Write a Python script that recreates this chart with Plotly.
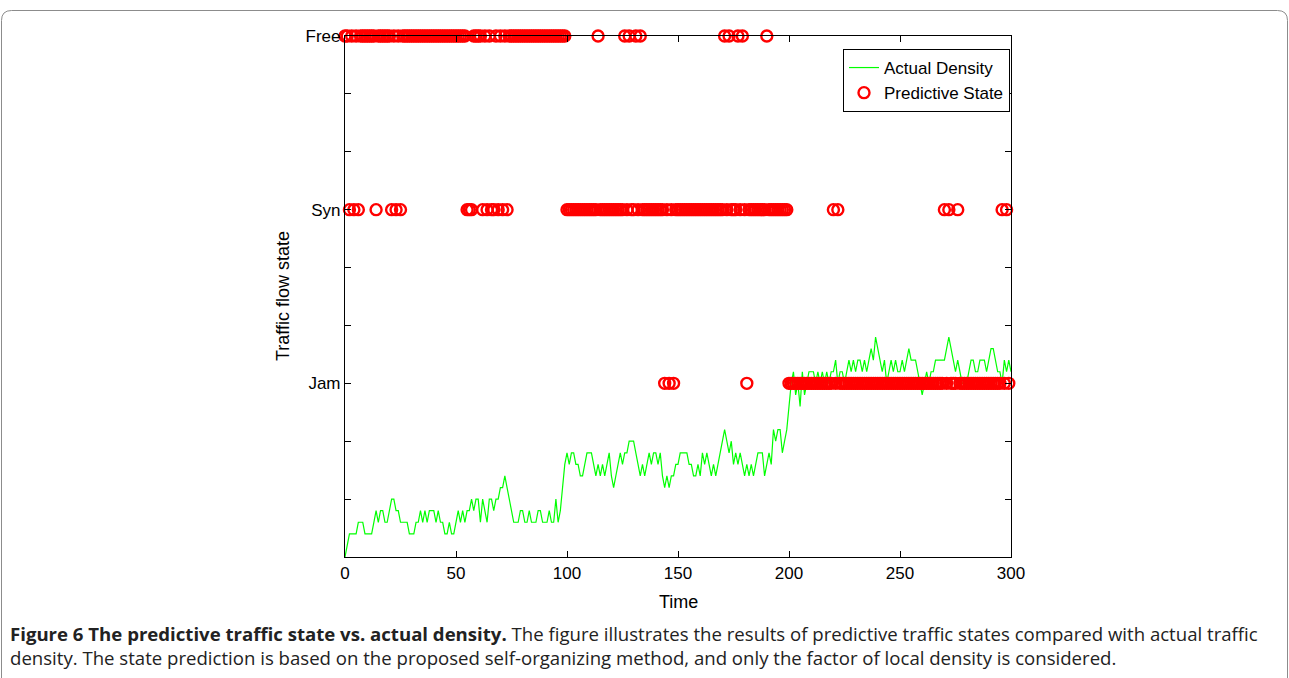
import plotly.graph_objects as go

# ---- data -------------------------------------------------------------
time = list(range(301))

# actual density, in steps of 1/15 of a state band
density_level = [
    0, 1, 2, 2, 2, 2, 3, 3, 3, 2,
    2, 2, 2, 3, 4, 3, 4, 4, 3, 3,
    4, 5, 5, 4, 4, 3, 3, 3, 3, 2,
    2, 2, 3, 3, 4, 3, 4, 3, 4, 4,
    4, 3, 4, 3, 3, 2, 2, 3, 2, 2,
    3, 4, 3, 4, 3, 4, 4, 5, 4, 5,
    5, 3, 5, 4, 3, 5, 5, 4, 5, 5,
    6, 6, 7, 6, 5, 4, 3, 3, 3, 4,
    4, 3, 3, 4, 3, 3, 3, 4, 4, 3,
    3, 3, 4, 3, 3, 5, 3, 4, 6, 8,
    9, 8, 9, 9, 8, 8, 7, 7, 8, 9,
    9, 9, 8, 7, 8, 7, 8, 7, 8, 9,
    7, 6, 7, 8, 9, 8, 9, 9, 10, 10,
    10, 9, 8, 7, 8, 7, 8, 9, 8, 9,
    9, 8, 9, 7, 6, 7, 6, 7, 7, 8,
    8, 9, 9, 9, 9, 8, 8, 7, 7, 8,
    7, 9, 8, 9, 8, 7, 8, 7, 8, 9,
    10, 11, 10, 9, 10, 8, 9, 8, 9, 8,
    7, 8, 7, 8, 7, 8, 9, 9, 9, 7,
    8, 9, 8, 11, 10, 11, 11, 9, 10, 11,
    13, 15, 16, 14, 15, 13, 16, 14, 15, 16,
    16, 16, 15, 16, 15, 16, 15, 16, 15, 16,
    16, 17, 15, 16, 16, 15, 16, 17, 16, 17,
    16, 17, 17, 16, 17, 16, 17, 18, 17, 19,
    18, 17, 16, 17, 15, 16, 17, 16, 17, 16,
    16, 17, 16, 17, 18, 17, 17, 17, 16, 15,
    14, 15, 16, 15, 16, 16, 17, 17, 17, 17,
    17, 18, 19, 18, 17, 16, 17, 16, 15, 15,
    15, 16, 17, 17, 16, 16, 17, 17, 17, 16,
    17, 18, 18, 17, 16, 16, 15, 17, 16, 17,
    16,
]
levels_per_state = 15

# predicted state per time step: 1 = Jam, 2 = Syn, 3 = Free
state_time = list(range(300))
syn_times_free_phase = [2, 4, 6, 14, 21, 23, 25, 55, 56, 57, 62, 64, 66, 67, 69, 71, 73]
free_times_syn_phase = [114, 126, 128, 131, 133, 171, 173, 177, 179, 190]
jam_times_syn_phase = [144, 146, 148, 181]
syn_times_jam_phase = [220, 222, 270, 272, 276, 296, 298]

state = []
for t in state_time:
    if t < 100:
        s = 2 if t in syn_times_free_phase else 3
    elif t < 200:
        if t in free_times_syn_phase:
            s = 3
        elif t in jam_times_syn_phase:
            s = 1
        else:
            s = 2
    else:
        s = 2 if t in syn_times_jam_phase else 1
    state.append(s)

state_ticks = [1, 2, 3]
state_names = ["Jam", "Syn", "Free"]
x_ticks = [0, 50, 100, 150, 200, 250, 300]

caption_title = "Figure 6 The predictive traffic state vs. actual density."
caption_line1 = " The figure illustrates the results of predictive traffic states compared with actual traffic"
caption_line2 = ("density. The state prediction is based on the proposed self-organizing method, "
                 "and only the factor of local density is considered.")

# ---- layout geometry (pixels) -----------------------------------------
W, H = 1289, 678
L, R, T, B = 345, 1011, 36, 557
pw, ph = R - L, B - T


def px(x):
    return (x - L) / pw


def py(y):
    return (B - y) / ph


font_main = "Liberation Sans, Arial, sans-serif"
font_caption = "Open Sans, sans-serif"

fig = go.Figure()

fig.add_trace(go.Scatter(
    x=time,
    y=[v / levels_per_state for v in density_level],
    mode="lines",
    line=dict(color="#00ff00", width=1.2),
    name="Actual Density",
    cliponaxis=False,
))

fig.add_trace(go.Scatter(
    x=state_time,
    y=state,
    mode="markers",
    marker=dict(symbol="circle-open", size=11, color="#ff0000",
                line=dict(width=2.4, color="#ff0000")),
    name="Predictive State",
    cliponaxis=False,
))

# y ticks every third of a band, labelled only on whole states
y_tickvals = [i / 3 for i in range(10)]
y_ticktext = [""] * 10
for v, name in zip(state_ticks, state_names):
    y_ticktext[v * 3] = name

axis_common = dict(
    showline=True, linecolor="black", linewidth=1.2, mirror="ticks",
    ticks="inside", ticklen=6, tickcolor="black", tickwidth=1.2,
    showgrid=False, zeroline=False,
    tickfont=dict(family=font_main, size=17, color="black"),
)

fig.update_xaxes(range=[0, 300], tickvals=x_ticks, **axis_common)
fig.update_yaxes(range=[0, 3], tickvals=y_tickvals, ticktext=y_ticktext, **axis_common)

# rounded frame around the figure panel
x0, x1, y0, y1, r = 1.5, 1287.5, 10.5, 700, 10
path = (f"M {px(x0)},{py(y0 + r)} Q {px(x0)},{py(y0)} {px(x0 + r)},{py(y0)} "
        f"L {px(x1 - r)},{py(y0)} Q {px(x1)},{py(y0)} {px(x1)},{py(y0 + r)} "
        f"L {px(x1)},{py(y1)} L {px(x0)},{py(y1)} Z")

caption_html = f"<b>{caption_title}</b>{caption_line1}<br>{caption_line2}"

fig.update_layout(
    width=W, height=H,
    margin=dict(l=L, r=W - R, t=T, b=H - B),
    paper_bgcolor="white", plot_bgcolor="white",
    font=dict(family=font_main, color="black"),
    showlegend=True,
    legend=dict(
        x=px(843), y=py(49), xanchor="left", yanchor="top",
        bordercolor="black", borderwidth=1, bgcolor="white",
        font=dict(family=font_main, size=17, color="black"),
        tracegroupgap=0,
    ),
    shapes=[dict(type="path", xref="paper", yref="paper", path=path,
                 line=dict(color="#8c8c8c", width=1), layer="below")],
    annotations=[
        dict(text="Time", xref="paper", yref="paper", x=px(678), y=py(602),
             showarrow=False, xanchor="center", yanchor="middle",
             font=dict(family=font_main, size=18, color="black")),
        dict(text="Traffic flow state", xref="paper", yref="paper", x=px(283), y=py(296),
             showarrow=False, textangle=-90, xanchor="center", yanchor="middle",
             font=dict(family=font_main, size=18, color="black")),
        dict(text=caption_html, xref="paper", yref="paper",
             x=px(8), y=py(645), showarrow=False, xanchor="left", yanchor="middle",
             align="left", font=dict(family=font_caption, size=18.6, color="#222")),
    ],
)

fig.write_html("out.html")
